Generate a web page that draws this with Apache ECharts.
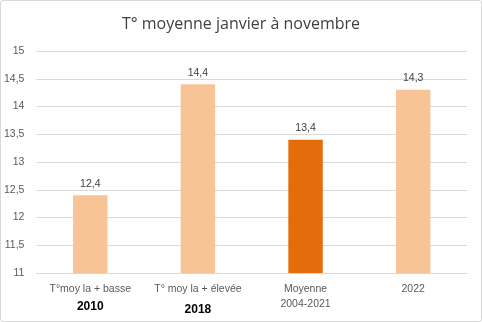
<!DOCTYPE html>
<html><head><meta charset="utf-8">
<script src="https://cdn.jsdelivr.net/npm/echarts@6/dist/echarts.min.js"></script>
<style>html,body{margin:0;padding:0;background:#fff}#c{width:482px;height:322px;box-sizing:border-box;border:1px solid #d9d9d9;border-radius:3px}</style>
</head><body><div id="c"></div>
<script>
const categories = ["T°moy la + basse", "T° moy la + élevée", "Moyenne", "2022"];
const subLabels = ["2010", "2018", "2004-2021", ""];
const values = [12.4, 14.4, 13.4, 14.3];
const colors = ["#F8C496", "#F8C496", "#E46C0A", "#F8C496"];
const chart = echarts.init(document.getElementById('c'));
const fmt = v => String(v).replace('.', ',');
chart.setOption({
  animation: false,
  title: { text: "T° moyenne janvier à novembre", left: 'center', top: 10,
    textStyle: { fontFamily: 'Open Sans, Liberation Sans', fontSize: 16, fontWeight: 'normal', color: '#404040' } },
  grid: { left: 34, right: 14, top: 50, bottom: 48 },
  xAxis: { type: 'category', data: categories,
    axisLine: { lineStyle: { color: '#d9d9d9' } }, axisTick: { show: false },
    axisLabel: { interval: 0, margin: 9, fontFamily: 'Liberation Sans', fontSize: 10.5, color: '#595959',
      formatter: (v, i) => {
        const s = subLabels[i];
        if (i === 0) return v + '\n{b|' + s + '}';
        if (i === 1) return v + '\n{c|' + s + '}';
        if (s) return v + '\n' + s;
        return v;
      },
      lineHeight: 15,
      rich: { b: { fontWeight: 'bold', fontSize: 12, color: '#000', fontFamily: 'Liberation Sans', lineHeight: 20 },
              c: { fontWeight: 'bold', fontSize: 12, color: '#000', fontFamily: 'Liberation Sans', lineHeight: 20, padding: [5, 0, 0, 0] } } } },
  yAxis: { type: 'value', min: 11, max: 15, interval: 0.5,
    axisLine: { show: false }, axisTick: { show: false },
    splitLine: { lineStyle: { color: '#d9d9d9' } },
    axisLabel: { fontFamily: 'Liberation Sans', fontSize: 10.5, color: '#595959', margin: 12, formatter: v => fmt(v) } },
  series: [{ type: 'bar', barWidth: '32%',
    data: values.map((v, i) => ({ value: v, itemStyle: { color: colors[i] } })),
    label: { show: true, position: 'top', distance: 6, fontFamily: 'Liberation Sans', fontSize: 10.5, color: '#404040',
      formatter: p => fmt(p.value) } }]
});
</script></body></html>
